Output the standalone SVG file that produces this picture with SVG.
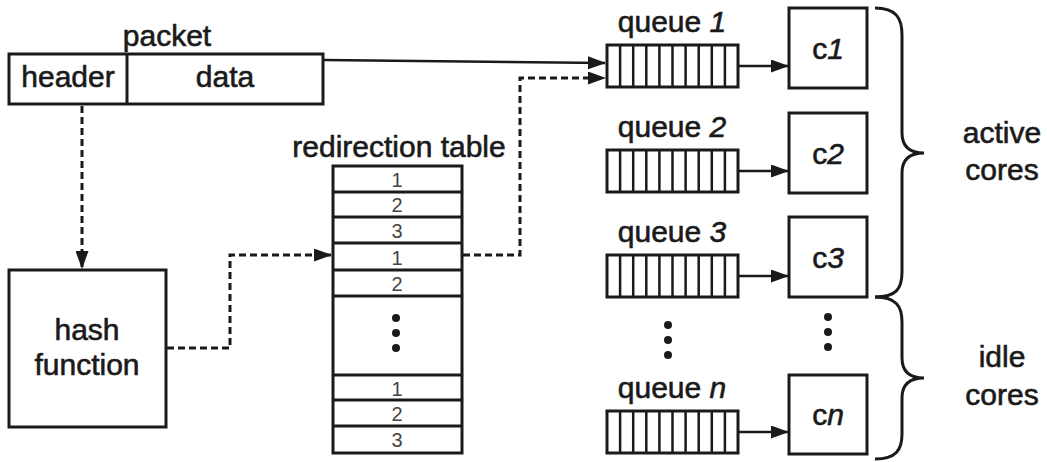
<svg xmlns="http://www.w3.org/2000/svg" xmlns:xlink="http://www.w3.org/1999/xlink" width="1047" height="462" viewBox="0 0 1047 462">
  <style>
    .box { fill: #fff; stroke: #1a1a1a; stroke-width: 3; }
    .lbl { font-family: "Liberation Sans", Arial, sans-serif; font-size: 30px; fill: #1a1a1a; stroke: #1a1a1a; stroke-width: 0.6; text-anchor: middle; }
    .num { font-family: "Liberation Sans", Arial, sans-serif; font-size: 20px; fill: #444; text-anchor: middle; }
    .solid { fill: none; stroke: #1a1a1a; stroke-width: 2.5; }
    .dash { fill: none; stroke: #1a1a1a; stroke-width: 3; stroke-dasharray: 7 4; }
    .brace { fill: none; stroke: #1a1a1a; stroke-width: 3; }
    .dot { fill: #1a1a1a; }
  </style>
  <defs>
    <marker id="arr" viewBox="0 0 18 13" refX="17" refY="6.5" markerWidth="18" markerHeight="13" markerUnits="userSpaceOnUse" orient="auto">
      <path d="M0,0 L18,6.5 L0,13 z" fill="#1a1a1a"/>
    </marker>
    <g id="queue">
      <rect x="0" y="0" width="131" height="42" class="box"/>
      <path d="M13.1,0v42M26.2,0v42M39.3,0v42M52.4,0v42M65.5,0v42M78.6,0v42M91.7,0v42M104.8,0v42M117.9,0v42" stroke="#1a1a1a" stroke-width="2.5"/>
    </g>
    <g id="vdots">
      <circle cx="0" cy="0" r="4"/>
      <circle cx="0" cy="15" r="4"/>
      <circle cx="0" cy="30" r="4"/>
    </g>
  </defs>
  <rect width="1047" height="462" fill="#fff"/>

  <!-- connectors -->
  <g id="connectors">
    <path class="solid" d="M324,60 L605,63" marker-end="url(#arr)"/>
    <path class="dash" d="M82,106 V268" marker-end="url(#arr)"/>
    <path class="dash" d="M167,348 H230 V255 H331" marker-end="url(#arr)"/>
    <path class="dash" d="M463,255 H520 V78 H605" marker-end="url(#arr)"/>
    <path class="solid" d="M738,66 H788" marker-end="url(#arr)"/>
    <path class="solid" d="M738,171 H788" marker-end="url(#arr)"/>
    <path class="solid" d="M738,276 H788" marker-end="url(#arr)"/>
    <path class="solid" d="M738,432 H788" marker-end="url(#arr)"/>
  </g>

  <!-- packet -->
  <g id="packet">
    <text class="lbl" x="167" y="46">packet</text>
    <rect class="box" x="9" y="54" width="314" height="50"/>
    <line x1="127" y1="54" x2="127" y2="104" stroke="#1a1a1a" stroke-width="3"/>
    <text class="lbl" x="68" y="87">header</text>
    <text class="lbl" x="225" y="87">data</text>
  </g>

  <!-- hash function -->
  <g id="hash">
    <rect class="box" x="9" y="270" width="157" height="157"/>
    <text class="lbl" x="87" y="340">hash</text>
    <text class="lbl" x="87" y="375">function</text>
  </g>

  <!-- redirection table -->
  <g id="table">
    <text class="lbl" x="399" y="157">redirection table</text>
    <rect class="box" x="333" y="166" width="129" height="287"/>
    <path d="M333,192H462M333,217H462M333,243H462M333,270H462M333,296H462M333,375H462M333,400H462M333,426H462" stroke="#1a1a1a" stroke-width="3"/>
    <text class="num" x="397" y="187">1</text>
    <text class="num" x="397" y="212">2</text>
    <text class="num" x="397" y="238">3</text>
    <text class="num" x="397" y="265">1</text>
    <text class="num" x="397" y="291">2</text>
    <use xlink:href="#vdots" x="396" y="318" class="dot"/>
    <text class="num" x="397" y="396">1</text>
    <text class="num" x="397" y="421">2</text>
    <text class="num" x="397" y="447">3</text>
  </g>

  <!-- queues -->
  <g id="queue1">
    <text class="lbl" x="672" y="32">queue <tspan font-style="italic">1</tspan></text>
    <use xlink:href="#queue" x="607" y="45"/>
  </g>
  <g id="queue2">
    <text class="lbl" x="672" y="137">queue <tspan font-style="italic">2</tspan></text>
    <use xlink:href="#queue" x="607" y="150"/>
  </g>
  <g id="queue3">
    <text class="lbl" x="672" y="242">queue <tspan font-style="italic">3</tspan></text>
    <use xlink:href="#queue" x="607" y="255"/>
  </g>
  <g id="queue-dots">
    <use xlink:href="#vdots" x="668" y="325" class="dot"/>
  </g>
  <g id="queuen">
    <text class="lbl" x="672" y="398">queue <tspan font-style="italic">n</tspan></text>
    <use xlink:href="#queue" x="607" y="411"/>
  </g>

  <!-- cores -->
  <g id="c1">
    <rect class="box" x="789" y="8" width="78" height="80"/>
    <text class="lbl" x="828" y="59">c<tspan font-style="italic">1</tspan></text>
  </g>
  <g id="c2">
    <rect class="box" x="789" y="113" width="78" height="80"/>
    <text class="lbl" x="828" y="164">c<tspan font-style="italic">2</tspan></text>
  </g>
  <g id="c3">
    <rect class="box" x="789" y="217" width="78" height="80"/>
    <text class="lbl" x="828" y="268">c<tspan font-style="italic">3</tspan></text>
  </g>
  <g id="core-dots">
    <use xlink:href="#vdots" x="828" y="317" class="dot"/>
  </g>
  <g id="cn">
    <rect class="box" x="789" y="375" width="78" height="79"/>
    <text class="lbl" x="828" y="425">c<tspan font-style="italic">n</tspan></text>
  </g>

  <!-- braces -->
  <g id="active">
    <path class="brace" d="M875,8 C896,8 902,18 902,35 V133 C902,147 910,153 924,153 C910,153 902,159 902,173 V272 C902,289 896,297 875,297"/>
    <text class="lbl" x="1002" y="143">active</text>
    <text class="lbl" x="1002" y="180">cores</text>
  </g>
  <g id="idle">
    <path class="brace" d="M875,297 C896,297 902,306 902,322 V358 C902,372 910,378 924,378 C910,378 902,384 902,398 V434 C902,450 896,459 875,459"/>
    <text class="lbl" x="1002" y="367">idle</text>
    <text class="lbl" x="1002" y="405">cores</text>
  </g>
</svg>
